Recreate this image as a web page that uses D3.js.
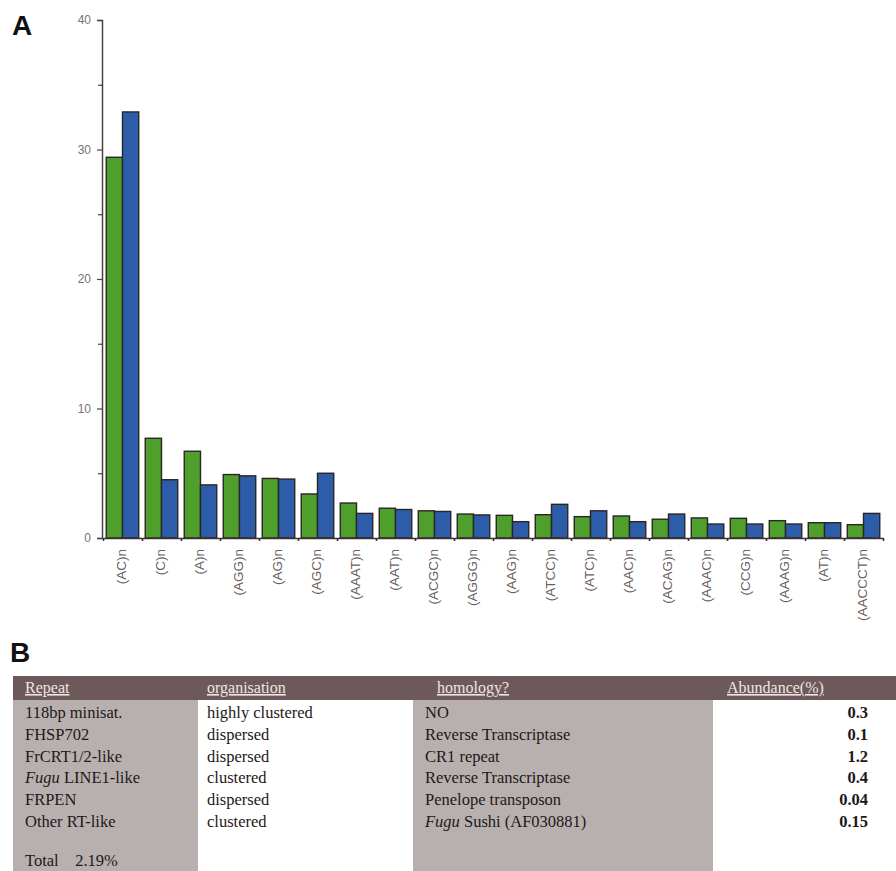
<!DOCTYPE html>
<html>
<head>
<meta charset="utf-8">
<script src="https://cdn.jsdelivr.net/npm/d3@7"></script>
<style>
  html, body { margin: 0; padding: 0; background: #fff; }
  svg { display: block; }
</style>
</head>
<body>
<svg id="chart" width="896" height="871"></svg>
<script>
// ---------- DATA ----------
const categories = ["(AC)n","(C)n","(A)n","(AGG)n","(AG)n","(AGC)n","(AAAT)n","(AAT)n","(ACGC)n","(AGGG)n",
                    "(AAG)n","(ATCC)n","(ATC)n","(AAC)n","(ACAG)n","(AAAC)n","(CCG)n","(AAAG)n","(AT)n","(AACCCT)n"];
const greenValues = [29.4, 7.7, 6.7, 4.9, 4.6, 3.4, 2.7, 2.3, 2.1, 1.85, 1.75, 1.8, 1.65, 1.7, 1.45, 1.55, 1.52, 1.34, 1.18, 1.03];
const blueValues  = [32.9, 4.5, 4.1, 4.8, 4.55, 5.0, 1.9, 2.2, 2.05, 1.78, 1.26, 2.6, 2.1, 1.26, 1.85, 1.08, 1.08, 1.08, 1.18, 1.9];
const yMajorTicks = [0, 10, 20, 30, 40];
const yMinorTicks = [5, 15, 25, 35];

const tableHeaders = ["Repeat", "organisation", "homology?", "Abundance(%)"];
const repeatNames = ["118bp minisat.", "FHSP702", "FrCRT1/2-like", "Fugu LINE1-like", "FRPEN", "Other RT-like"];
const organisation = ["highly clustered", "dispersed", "dispersed", "clustered", "dispersed", "clustered"];
const homology = ["NO", "Reverse Transcriptase", "CR1 repeat", "Reverse Transcriptase", "Penelope transposon", "Fugu Sushi (AF030881)"];
const abundance = ["0.3", "0.1", "1.2", "0.4", "0.04", "0.15"];
const totalLabel = "Total";
const totalValue = "2.19%";

// ---------- CHART ----------
const svg = d3.select("#chart");
const plot = { left: 103, right: 883, top: 20, bottom: 538 };
const greenColor = "#4e9f2b", blueColor = "#2d5ca9", outline = "#2b2626";

const x0 = d3.scaleBand().domain(categories).range([plot.left, plot.right])
  .paddingInner(0.167).paddingOuter(0.083);
const x1 = d3.scaleBand().domain(["g", "b"]).range([0, x0.bandwidth()]);
const y = d3.scaleLinear().domain([0, 40]).range([plot.bottom, plot.top]);

// panel labels
svg.append("text").attr("x", 12).attr("y", 35).text("A")
  .attr("font-family", "Liberation Sans, Arial, sans-serif").attr("font-weight", "bold")
  .attr("font-size", 28).attr("fill", "#111");
svg.append("text").attr("x", 10).attr("y", 662).text("B")
  .attr("font-family", "Liberation Sans, Arial, sans-serif").attr("font-weight", "bold")
  .attr("font-size", 28).attr("fill", "#111");

// bars
const groups = svg.append("g").selectAll("g").data(categories).join("g")
  .attr("transform", d => `translate(${x0(d)},0)`);
groups.append("rect")
  .attr("x", x1("g")).attr("width", x1.bandwidth())
  .attr("y", (d, i) => y(greenValues[i])).attr("height", (d, i) => y(0) - y(greenValues[i]))
  .attr("fill", greenColor).attr("stroke", outline).attr("stroke-width", 1.4);
groups.append("rect")
  .attr("x", x1("b")).attr("width", x1.bandwidth())
  .attr("y", (d, i) => y(blueValues[i])).attr("height", (d, i) => y(0) - y(blueValues[i]))
  .attr("fill", blueColor).attr("stroke", outline).attr("stroke-width", 1.4);

// y axis
const yAxis = d3.axisLeft(y).tickValues(yMajorTicks).tickSize(5).tickPadding(6);
const gy = svg.append("g").attr("transform", `translate(${plot.left - 1},0)`).call(yAxis);
gy.select(".domain").attr("stroke", "#4a4040").attr("stroke-width", 1.5);
gy.selectAll(".tick line").attr("stroke", "#4a4040").attr("stroke-width", 1.2);
gy.selectAll(".tick text").attr("font-family", "Liberation Sans, Arial, sans-serif")
  .attr("font-size", 12).attr("fill", "#7a7070");
const yMinor = d3.axisLeft(y).tickValues(yMinorTicks).tickSize(4).tickFormat("");
const gym = svg.append("g").attr("transform", `translate(${plot.left - 1},0)`).call(yMinor);
gym.select(".domain").remove();
gym.selectAll(".tick line").attr("stroke", "#4a4040").attr("stroke-width", 1.2);

// x axis
const boundaries = d3.range(categories.length + 1).map(i => plot.left + i * x0.step());
const xb = d3.scaleLinear().domain([plot.left, plot.right]).range([plot.left, plot.right]);
const xAxis = d3.axisBottom(xb).tickValues(boundaries).tickSize(3).tickFormat("").tickSizeOuter(0);
const gx = svg.append("g").attr("transform", `translate(0,${plot.bottom})`).call(xAxis);
gx.select(".domain").attr("stroke", "#3a3232").attr("stroke-width", 1.5);
gx.selectAll(".tick line").attr("stroke", "#3a3232").attr("stroke-width", 1.6);

// category labels (rotated)
svg.append("g").selectAll("text").data(categories).join("text")
  .attr("transform", d => `translate(${x0(d) + x0.bandwidth() / 2},549) rotate(-90)`)
  .attr("text-anchor", "end").attr("dominant-baseline", "middle")
  .attr("font-family", "Liberation Sans, Arial, sans-serif").attr("font-size", 13.5)
  .attr("fill", "#6a6060").text(d => d);

// ---------- TABLE ----------
const tbl = { left: 13, top: 676, headerH: 24, rowH: 21.8 };
const colEdges = [13, 198, 413, 713, 896];
const colBg = ["#b8b0af", "#ffffff", "#b8b0af", "#ffffff"];
const tg = svg.append("g");
colBg.forEach((c, i) => {
  tg.append("rect").attr("x", colEdges[i]).attr("y", tbl.top + tbl.headerH)
    .attr("width", colEdges[i + 1] - colEdges[i]).attr("height", 871 - tbl.top - tbl.headerH)
    .attr("fill", c);
});
tg.append("rect").attr("x", colEdges[0]).attr("y", tbl.top)
  .attr("width", colEdges[4] - colEdges[0]).attr("height", tbl.headerH).attr("fill", "#6d5959");

const headerX = [25, 207, 437, 727];
tableHeaders.forEach((h, i) => {
  tg.append("text").attr("x", headerX[i]).attr("y", tbl.top + 17).text(h)
    .attr("font-family", "Liberation Serif, Times New Roman, serif").attr("font-size", 16)
    .attr("fill", "#eee6e6").attr("text-decoration", "underline");
});

const serif = "Liberation Serif, Times New Roman, serif";
const rowBase = i => 718 + i * tbl.rowH;
function addItalicFugu(sel, text) {
  if (text.startsWith("Fugu ")) {
    sel.append("tspan").attr("font-style", "italic").text("Fugu");
    sel.append("tspan").text(text.slice(4));
  } else sel.text(text);
}
repeatNames.forEach((t, i) => {
  const s = tg.append("text").attr("x", 25).attr("y", rowBase(i))
    .attr("font-family", serif).attr("font-size", 16.5).attr("fill", "#1e1818");
  addItalicFugu(s, t);
});
organisation.forEach((t, i) => {
  tg.append("text").attr("x", 207).attr("y", rowBase(i)).text(t)
    .attr("font-family", serif).attr("font-size", 16.5).attr("fill", "#1e1818");
});
homology.forEach((t, i) => {
  const s = tg.append("text").attr("x", 425).attr("y", rowBase(i))
    .attr("font-family", serif).attr("font-size", 16.5).attr("fill", "#1e1818");
  addItalicFugu(s, t);
});
abundance.forEach((t, i) => {
  tg.append("text").attr("x", 868).attr("y", rowBase(i)).text(t).attr("text-anchor", "end")
    .attr("font-family", serif).attr("font-size", 16.5).attr("font-weight", "bold").attr("fill", "#1e1818");
});
tg.append("text").attr("x", 25).attr("y", 866)
  .attr("font-family", serif).attr("font-size", 16.5).attr("fill", "#1e1818")
  .text(totalLabel + "\u00a0\u00a0\u00a0\u00a0" + totalValue);
</script>
</body>
</html>
